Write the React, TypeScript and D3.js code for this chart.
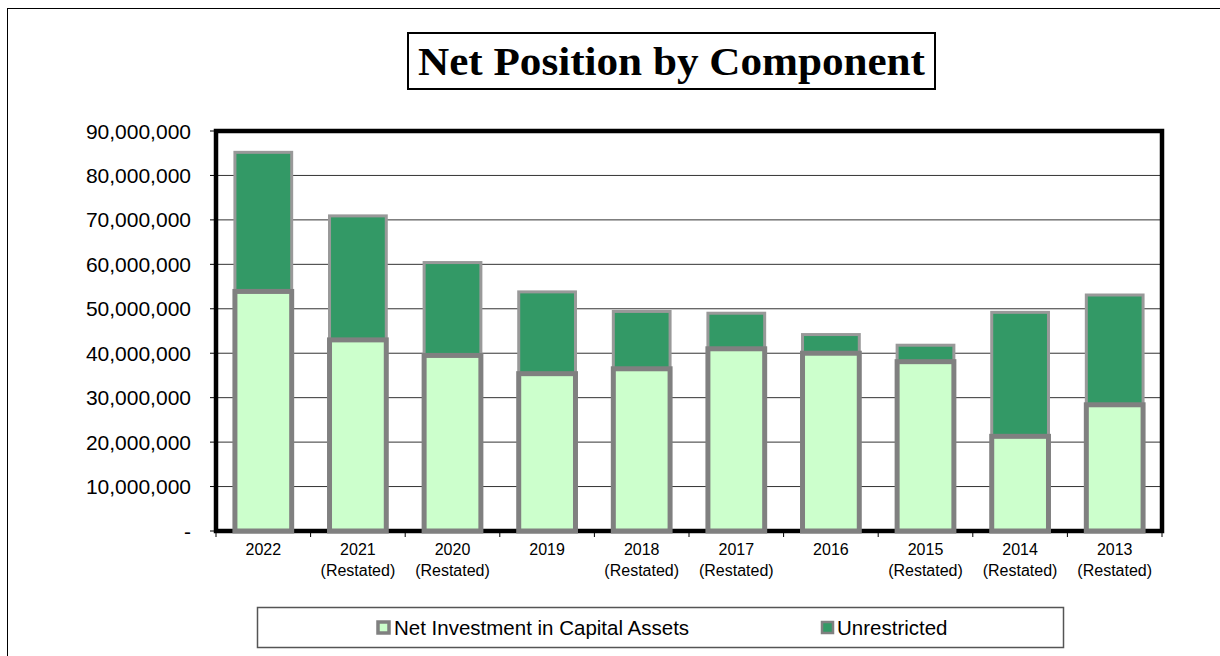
import React from "react";
import * as d3 from "d3";

const years = ["2022", "2021", "2020", "2019", "2018", "2017", "2016", "2015", "2014", "2013"];
const subLabels = ["", "(Restated)", "(Restated)", "", "(Restated)", "(Restated)", "", "(Restated)", "(Restated)", "(Restated)"];
const capitalAssets = [53.9, 43.0, 39.5, 35.4, 36.5, 41.0, 40.0, 38.1, 21.3, 28.4].map((v) => v * 1e6);
const totals = [85.2, 70.9, 60.4, 53.8, 49.4, 49.0, 44.2, 41.8, 49.2, 53.1].map((v) => v * 1e6);
const unrestricted = totals.map((t, i) => t - capitalAssets[i]);
const yTicks = [0, 10e6, 20e6, 30e6, 40e6, 50e6, 60e6, 70e6, 80e6, 90e6];
const seriesNames = ["Net Investment in Capital Assets", "Unrestricted"];
const seriesColors = ["#CCFFCC", "#339966"];

export default function App() {
  const W = 1220;
  const H = 656;
  const left = 216;
  const right = 1162;
  const top = 131;
  const bottom = 531;

  const x = d3.scaleBand<string>().domain(years).range([left, right]).paddingInner(0.4).paddingOuter(0.2);
  const band = d3.scaleBand<string>().domain(years).range([left, right]);
  const y = d3.scaleLinear().domain([0, 90e6]).range([bottom, top]);
  const fmt = d3.format(",");
  const font = "Arial, 'Liberation Sans', sans-serif";

  return (
    <svg width={W} height={H} style={{ position: "absolute", left: 0, top: 0, background: "#fff" }}>
      <rect x={7.5} y={8.5} width={1240} height={700} fill="#fff" stroke="#000" strokeWidth={1} />
      {/* title */}
      <rect x={408} y={33} width={527} height={56} fill="#fff" stroke="#000" strokeWidth={2} />
      <text
        x={418}
        y={75}
        textLength={507}
        lengthAdjust="spacingAndGlyphs"
        fontFamily="'Liberation Serif', 'Times New Roman', serif"
        fontWeight="bold"
        fontSize={40}
      >
        Net Position by Component
      </text>
      {/* gridlines */}
      {yTicks.slice(1, -1).map((t) => (
        <line key={"g" + t} x1={left} x2={right} y1={y(t)} y2={y(t)} stroke="#333" strokeWidth={1} />
      ))}
      {/* y ticks + labels */}
      {yTicks.map((t) => (
        <g key={"y" + t}>
          <line x1={210} x2={left} y1={y(t)} y2={y(t)} stroke="#000" strokeWidth={1} />
          <text x={191} y={y(t)} dy="0.36em" textAnchor="end" fontFamily={font} fontSize={21} fill="#000">
            {t === 0 ? "-" : fmt(t)}
          </text>
        </g>
      ))}
      {/* plot frame */}
      <rect x={left} y={top} width={right - left} height={bottom - top} fill="none" stroke="#000" strokeWidth={4.5} />
      {/* x ticks */}
      {years.map((yr) => (
        <line key={"xt" + yr} x1={band(yr)!} x2={band(yr)!} y1={bottom} y2={bottom + 6} stroke="#000" strokeWidth={1} />
      ))}
      <line x1={right} x2={right} y1={bottom} y2={bottom + 6} stroke="#000" strokeWidth={1} />
      {/* bars: unrestricted */}
      {years.map((yr, i) => (
        <rect
          key={"u" + yr}
          x={x(yr)!}
          width={x.bandwidth()}
          y={y(capitalAssets[i] + unrestricted[i])}
          height={y(capitalAssets[i]) - y(capitalAssets[i] + unrestricted[i])}
          fill={seriesColors[1]}
          stroke="#999"
          strokeWidth={3}
        />
      ))}
      {/* bars: capital assets */}
      {years.map((yr, i) => (
        <rect
          key={"c" + yr}
          x={x(yr)!}
          width={x.bandwidth()}
          y={y(capitalAssets[i])}
          height={y(0) - y(capitalAssets[i])}
          fill={seriesColors[0]}
          stroke="#808080"
          strokeWidth={5}
        />
      ))}
      {/* x labels */}
      {years.map((yr, i) => (
        <g key={"xl" + yr}>
          <text x={x(yr)! + x.bandwidth() / 2} y={555} textAnchor="middle" fontFamily={font} fontSize={16}>
            {yr}
          </text>
          {subLabels[i] && (
            <text x={x(yr)! + x.bandwidth() / 2} y={576} textAnchor="middle" fontFamily={font} fontSize={16}>
              {subLabels[i]}
            </text>
          )}
        </g>
      ))}
      {/* legend */}
      <rect x={257.5} y={607.5} width={806} height={40} fill="#fff" stroke="#555" strokeWidth={1.5} />
      <rect x={378} y={622} width={11} height={11} fill={seriesColors[0]} stroke="#808080" strokeWidth={3.5} />
      <text x={394} y={628} dy="0.36em" fontFamily={font} fontSize={20.5}>
        {seriesNames[0]}
      </text>
      <rect x={822} y={622} width={11} height={11} fill={seriesColors[1]} stroke="#808080" strokeWidth={2.5} />
      <text x={837} y={628} dy="0.36em" fontFamily={font} fontSize={20.5}>
        {seriesNames[1]}
      </text>
    </svg>
  );
}
